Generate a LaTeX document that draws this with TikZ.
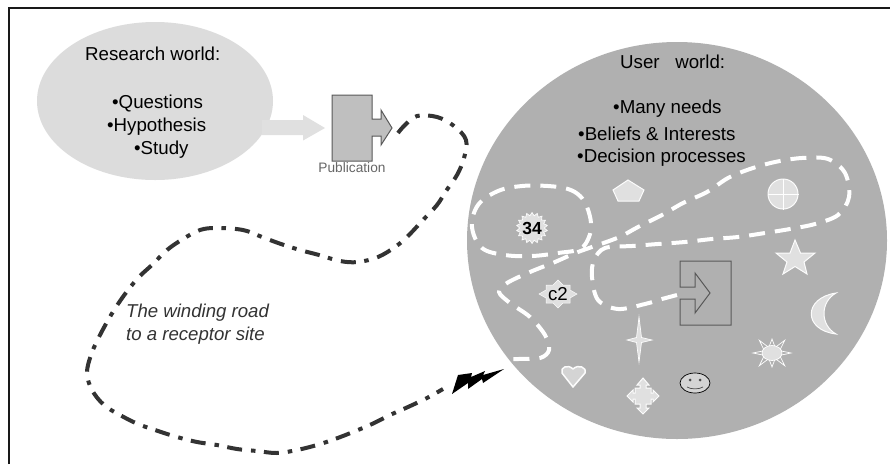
\documentclass[tikz,border=0pt]{standalone}
\usepackage{fontspec}
\setmainfont{Liberation Sans}
\usetikzlibrary{shapes.geometric,shapes.misc,calc}
\definecolor{pale}{HTML}{E0E0E0}
\definecolor{world}{HTML}{B0B0B0}
\definecolor{research}{HTML}{DCDCDC}
\tikzset{
  px/.style={x=1pt,y=-1pt},
  bigtext/.style={anchor=west,inner sep=0pt,font=\fontsize{18.7}{18.7}\selectfont,text=black},
  road/.style={draw=black!80,line width=4pt,dash pattern=on 15pt off 9pt on 4.5pt off 8.5pt},
  whiteroad/.style={draw=white,line width=4pt,dash pattern=on 16pt off 10pt},
  symbol/.style={fill=pale,draw=white!90!pale,line width=1pt,line join=miter},
  outline/.style={draw=black!65,line width=1pt},
  burst/.style={star,star points=#1,draw=white!90!pale,fill=pale,line width=.7pt,inner sep=0pt},
}
\begin{document}
\begin{tikzpicture}[px]
\useasboundingbox (0,0) rectangle (890,464);
\fill[white] (0,0) rectangle (890,464);
% frame
\coordinate (fa) at (9,464); \coordinate (fb) at (9,8); \coordinate (fc) at (890,8);
\draw[black!90,line width=2pt] (fa) -- (fb) -- (fc);
% worlds
\node[ellipse,fill=research,minimum width=236pt,minimum height=158pt,inner sep=0pt] (research) at (155,101) {};
\node[ellipse,fill=world,minimum width=420pt,minimum height=397pt,inner sep=0pt] (user) at (677,240.5) {};
% block arrow
\fill[pale] (262,120) -- (303,120) -- (303,115) -- (325,128) -- (303,140.5) -- (303,135) -- (262,135) -- cycle;
% publication
\draw[fill=black!25,draw=black!65,line width=1pt] (332,95) -- (372,95) -- (372,119) -- (381,119) -- (381,110) -- (392,128) -- (381,145) -- (381,136) -- (372,136) -- (372,161) -- (332,161) -- cycle;
\node[inner sep=0pt,font=\fontsize{13.7}{14}\selectfont,text=black!60] (pub) at (352,168) {Publication};
% texts
\node[bigtext] (r1) at (85,54) {Research world:};
\node[bigtext] (r2) at (112,103.5) {•Questions};
\node[bigtext] (r3) at (107,126.5) {•Hypothesis};
\node[bigtext] (r4) at (134,150) {•Study};
\node[bigtext] (u1) at (620,62) {User\ \ \ world:};
\node[bigtext] (u2) at (613,109) {•Many needs};
\node[bigtext] (u3) at (578,134) {•Beliefs \& Interests};
\node[bigtext] (u4) at (577,158) {•Decision processes};
\node[anchor=west,inner sep=0pt,align=left,font=\fontsize{18.6}{23}\itshape\selectfont,text=black!80] (road) at (126,324.5) {The winding road\\to a receptor site};
% road
\draw[road] plot[smooth,tension=.6] coordinates {(398,133) (405,125) (417,116) (437,117) (454,126) (466,140) (464,158) (457,175) (446,191) (437,205) (423,220) (407,237) (395,247) (378,257) (358,262) (340,261) (319,255) (300,250) (281,244) (262,237) (243,230) (217,228) (200,230) (183,239) (167,250) (153,264) (140,276) (128,290) (116,307) (107,322) (98,339) (91,355) (87,373) (92,390) (104,405) (120,415) (138,424) (158,431) (177,437) (197,442) (217,445) (237,449) (257,451) (277,453) (297,450) (317,445) (335,439) (353,432) (372,424) (390,415) (408,407) (427,398) (443,389)};
% bolt
\fill[black] (452,394) -- (458,375) -- (472,373) -- (471,377) -- (485,371) -- (483,375) -- (504,369) -- (483,383) -- (482,379) -- (468,389) -- (468,383) -- cycle;
% white dashed routes
\draw[whiteroad] plot[smooth cycle,tension=.6] coordinates {(587,207) (580,196) (568,189) (548,186) (522,186) (498,191) (478,205) (472,227) (482,248) (505,255) (532,256) (558,253) (580,249) (589,237) (591,223)};
\draw[whiteroad] plot[smooth,tension=.55] coordinates {(677,295) (662,299) (645,304) (618,309) (598,300) (592,277) (594,260) (605,248) (632,246) (658,244) (685,242) (712,239) (738,237) (765,233) (790,229) (815,224) (838,215) (849,197) (845,173) (828,159) (802,158) (775,162) (750,169) (728,178) (707,192) (683,203) (662,215) (638,227) (617,238) (578,252) (555,262) (530,272) (507,283) (499,292) (510,303) (530,317) (545,335) (549,350) (540,358) (518,359) (510,359)};
% symbols
\node[burst=18,star point ratio=1.25,minimum size=31pt] (s34) at (532,228) {};
\node[inner sep=0pt,font=\fontsize{17.5}{17.5}\bfseries\selectfont] (t34) at (532,228) {34};
\draw[symbol,line width=.5pt] (558,280) -- (563,285) -- (570,285) -- (570,290) -- (577,294) -- (570,298) -- (570,303) -- (563,303) -- (558,308) -- (553,303) -- (546,303) -- (546,298) -- (539,294) -- (546,290) -- (546,285) -- (553,285) -- cycle;
\node[inner sep=0pt,font=\fontsize{18.7}{18.7}\selectfont] (tc2) at (558,294) {c2};
\draw[symbol] (628,180) -- (644,190) -- (639,201) -- (618,201) -- (613,190) -- cycle;
\node[circle,symbol,minimum size=30pt,inner sep=0pt] (target) at (783,194) {};
\draw[white,line width=.8pt] (target.north) -- (target.south) (target.west) -- (target.east);
\draw[symbol] (795,240) -- (800.5,253) -- (815,253) -- (804,262) -- (807,274) -- (795,266.5) -- (783,274) -- (787,262) -- (776,253) -- (790,253) -- cycle;
\draw[symbol] (836,293) .. controls (803,298) and (803,330) .. (836,334) .. controls (820,325) and (820,302) .. (836,293) -- cycle;
% sun
\foreach \a/\r in {0/19,45/18,90/14,135/18,180/19,225/18,270/14,315/18}{
  \draw[white,line width=.7pt,line join=miter] ($(772,353)+(\a-18:9 and 7)$) -- ($(772,353)+(\a:\r)$) -- ($(772,353)+(\a+18:9 and 7)$);
}
\node[ellipse,fill=pale,draw=white,line width=.7pt,minimum width=20pt,minimum height=15pt,inner sep=0pt] (sunc) at (772,353) {};
% four point star
\draw[symbol,line width=.7pt] (639,317) -- (641.5,337.5) -- (652,340) -- (641.5,342.5) -- (639,362) -- (636.5,342.5) -- (627,340) -- (636.5,337.5) -- cycle;
% heart
\draw[fill=black!17,draw=white!90!pale,line width=1.5pt,line join=round] (573,387) -- (562,373) .. controls (560,367) and (568,364) .. (573,369) .. controls (578,364) and (587,367) .. (585,373) -- cycle;
% quad arrow
\draw[symbol,line width=1pt,fill=pale] (643,378) -- (649,385) -- (646,385) -- (646,388) -- (651,388) -- (651,393) -- (653,393) -- (653,390) -- (659,396) -- (653,402) -- (653,399) -- (651,399) -- (651,404) -- (646,404) -- (646,408) -- (649,408) -- (643,414) -- (637,408) -- (640,408) -- (640,404) -- (635,404) -- (635,399) -- (633,399) -- (633,402) -- (627,396) -- (633,390) -- (633,393) -- (635,393) -- (635,388) -- (640,388) -- (640,385) -- (637,385) -- cycle;
% smiley
\node[ellipse,fill=black!17,draw=black,line width=.7pt,minimum width=30pt,minimum height=20pt,inner sep=0pt] (smile) at (695,383) {};
\fill[black!70] (690,380) circle (1.5pt) (700,380) circle (1.5pt);
\draw[black!70,line width=.7pt] (687,387) .. controls (691,389.5) and (699,389.5) .. (703,387);
% open arrow box
\draw[outline,line join=miter] (680,287) -- (680,261) -- (731,261) -- (731,325) -- (680,325) -- (680,299) -- (695,299) -- (695,313) -- (710,293) -- (695,273) -- (695,287) -- cycle;
\end{tikzpicture}
\end{document}
